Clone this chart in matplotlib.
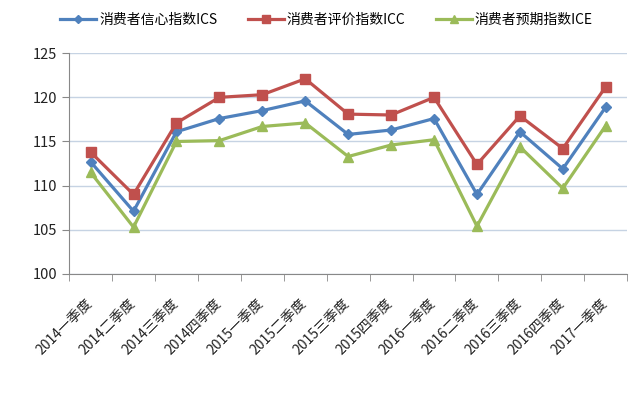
import matplotlib
matplotlib.use("Agg")
import matplotlib.pyplot as plt
import matplotlib.transforms as mtrans

plt.rcParams['font.family'] = ['Noto Sans CJK SC', 'DejaVu Sans']

quarters = ["2014一季度", "2014二季度", "2014三季度", "2014四季度",
            "2015一季度", "2015二季度", "2015三季度", "2015四季度",
            "2016一季度", "2016二季度", "2016三季度", "2016四季度",
            "2017一季度"]
ics = [112.7, 107.1, 116.1, 117.6, 118.5, 119.6, 115.8, 116.3, 117.6, 109.0, 116.1, 111.9, 118.9]
icc = [113.8, 109.0, 117.1, 120.0, 120.3, 122.1, 118.1, 118.0, 120.0, 112.4, 117.9, 114.2, 121.2]
ice = [111.5, 105.3, 115.0, 115.1, 116.7, 117.1, 113.3, 114.6, 115.2, 105.4, 114.4, 109.7, 116.8]

fig = plt.figure(figsize=(6.4, 3.97), dpi=100)
ax = fig.add_axes([0.108, 0.310, 0.872, 0.556])

x = range(len(quarters))
ax.plot(x, ics, color="#4F81BD", lw=2.3, marker="D", ms=5.5, label="消费者信心指数ICS")
ax.plot(x, icc, color="#C0504D", lw=2.3, marker="s", ms=7.5, label="消费者评价指数ICC")
ax.plot(x, ice, color="#9BBB59", lw=2.3, marker="^", ms=7.5, label="消费者预期指数ICE")

ax.set_ylim(100, 125)
ax.set_yticks([100, 105, 110, 115, 120, 125])
ax.set_xlim(-0.5, len(quarters) - 0.5)
ax.set_xticks(list(x))
ax.set_xticklabels(quarters, rotation=45, ha="right", rotation_mode="anchor")
ax.set_xticks([i - 0.5 for i in range(len(quarters) + 1)], minor=True)
ax.tick_params(axis="x", which="major", length=0, pad=16, labelsize=10, colors="#222222")
ax.tick_params(axis="x", which="minor", length=5, color="#888888")
ax.tick_params(axis="y", length=5, color="#888888", labelsize=10.5, labelcolor="#222222")

# shift the rotated labels a bit to the left, like the original
shift = mtrans.ScaledTranslation(-4 / 72, 0, fig.dpi_scale_trans)
for lbl in ax.get_xticklabels():
    lbl.set_transform(lbl.get_transform() + shift)

ax.grid(axis="y", color="#C6D3E3", lw=1)
ax.set_axisbelow(True)
for s in ["top", "right"]:
    ax.spines[s].set_visible(False)
ax.spines["left"].set_color("#888888")
ax.spines["bottom"].set_color("#888888")

fig.legend(loc="center", bbox_to_anchor=(0.51, 0.95), ncol=3, frameon=False,
           fontsize=10, handlelength=2.6, columnspacing=2.2, handletextpad=0.2,
           markerscale=0.8)

fig.savefig("out.png", dpi=100)
